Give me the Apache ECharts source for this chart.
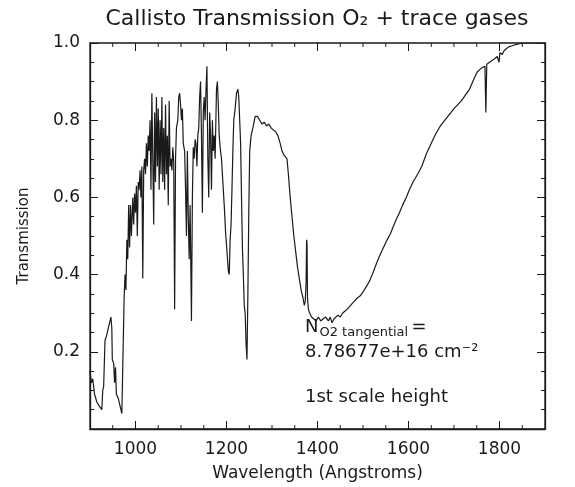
<!DOCTYPE html>
<html>
<head>
<meta charset="utf-8">
<script src="https://cdn.jsdelivr.net/npm/echarts@6/dist/echarts.min.js"></script>
<style>
  html, body { margin: 0; padding: 0; background: #fff; }
  #chart { width: 575px; height: 487px; }
</style>
</head>
<body>
<div id="chart"></div>
<script>
// ---- Data ----
var wavelength = [
  900, 903, 906, 910, 915, 920, 926, 928, 930, 933, 936, 940, 944, 946, 948, 949, 952, 954, 956, 958,
  962, 966, 970, 972, 975, 977, 979, 981, 983, 985, 987, 989, 991, 994, 996, 998, 1000, 1002, 1004, 1006,
  1008, 1010, 1012, 1014, 1016, 1018, 1020, 1022, 1024, 1026, 1028, 1030, 1032, 1034, 1036, 1038, 1040, 1042, 1044, 1046,
  1048, 1050, 1052, 1054, 1056, 1058, 1060, 1062, 1064, 1066, 1068, 1070, 1072, 1074, 1076, 1078, 1080, 1082, 1084, 1086,
  1088, 1090, 1093, 1095, 1097, 1099, 1101, 1103, 1105, 1108, 1110, 1112, 1114, 1116, 1118, 1120, 1123, 1125, 1127, 1129,
  1131, 1133, 1135, 1137, 1139, 1141, 1143, 1145, 1147, 1149, 1151, 1153, 1155, 1157, 1159, 1161, 1163, 1165, 1167, 1169,
  1171, 1173, 1175, 1178, 1180, 1182, 1184, 1186, 1189, 1192, 1195, 1198, 1201, 1204, 1206, 1208, 1210, 1212, 1214, 1216,
  1219, 1222, 1225, 1227, 1229, 1231, 1233, 1235, 1237, 1239, 1241, 1243, 1245, 1247, 1249, 1251, 1254, 1258, 1263, 1268,
  1273, 1278, 1283, 1288, 1293, 1298, 1303, 1308, 1313, 1318, 1322, 1326, 1330, 1333, 1336, 1340, 1344, 1348, 1352, 1356,
  1360, 1364, 1368, 1371, 1373, 1375, 1376, 1377, 1378, 1380, 1383, 1387, 1392, 1397, 1402, 1407, 1412, 1418, 1424, 1428,
  1432, 1436, 1440, 1445, 1450, 1455, 1460, 1465, 1476, 1488, 1494, 1500, 1508, 1515, 1522, 1530, 1537, 1545, 1553, 1560,
  1565, 1572, 1580, 1587, 1595, 1602, 1610, 1620, 1629, 1640, 1650, 1660, 1670, 1680, 1690, 1700, 1716, 1734, 1745, 1751,
  1760, 1768, 1770, 1772, 1778, 1784, 1790, 1795, 1799, 1801, 1806, 1810, 1815, 1820, 1828, 1836, 1844, 1852, 1870, 1900
];
var transmission = [
  0.15, 0.12, 0.13, 0.09, 0.07, 0.06, 0.05, 0.10, 0.11, 0.23, 0.24, 0.26, 0.28, 0.29, 0.26, 0.18, 0.17, 0.12, 0.16, 0.09,
  0.08, 0.06, 0.04, 0.16, 0.34, 0.40, 0.36, 0.49, 0.44, 0.58, 0.47, 0.58, 0.50, 0.60, 0.53, 0.61, 0.56, 0.63, 0.50, 0.64,
  0.62, 0.67, 0.60, 0.68, 0.39, 0.67, 0.70, 0.66, 0.74, 0.68, 0.76, 0.72, 0.80, 0.62, 0.87, 0.70, 0.53, 0.82, 0.64, 0.86,
  0.68, 0.83, 0.62, 0.80, 0.66, 0.86, 0.64, 0.78, 0.62, 0.84, 0.66, 0.76, 0.58, 0.85, 0.68, 0.70, 0.67, 0.73, 0.69, 0.31,
  0.70, 0.78, 0.80, 0.86, 0.87, 0.84, 0.80, 0.83, 0.74, 0.72, 0.62, 0.50, 0.72, 0.55, 0.44, 0.58, 0.28, 0.60, 0.73, 0.70,
  0.75, 0.74, 0.68, 0.76, 0.78, 0.86, 0.90, 0.76, 0.56, 0.82, 0.86, 0.80, 0.88, 0.94, 0.70, 0.60, 0.82, 0.76, 0.62, 0.80,
  0.72, 0.76, 0.70, 0.88, 0.90, 0.84, 0.76, 0.73, 0.70, 0.64, 0.58, 0.51, 0.46, 0.41, 0.40, 0.49, 0.53, 0.62, 0.72, 0.80,
  0.83, 0.87, 0.88, 0.86, 0.80, 0.74, 0.60, 0.47, 0.40, 0.32, 0.30, 0.22, 0.18, 0.35, 0.56, 0.72, 0.76, 0.78, 0.81, 0.81,
  0.80, 0.79, 0.795, 0.785, 0.79, 0.78, 0.775, 0.77, 0.76, 0.74, 0.72, 0.71, 0.715, 0.70, 0.66, 0.60, 0.55, 0.50, 0.46, 0.42,
  0.39, 0.36, 0.34, 0.32, 0.33, 0.38, 0.49, 0.48, 0.34, 0.31, 0.30, 0.29, 0.285, 0.28, 0.29, 0.28, 0.285, 0.29, 0.28, 0.29,
  0.275, 0.285, 0.29, 0.295, 0.29, 0.30, 0.305, 0.31, 0.325, 0.34, 0.345, 0.355, 0.37, 0.385, 0.405, 0.43, 0.45, 0.47, 0.49, 0.505,
  0.52, 0.54, 0.56, 0.58, 0.60, 0.62, 0.64, 0.66, 0.68, 0.715, 0.74, 0.765, 0.785, 0.80, 0.815, 0.83, 0.85, 0.88, 0.91, 0.925,
  0.935, 0.94, 0.82, 0.945, 0.95, 0.955, 0.96, 0.965, 0.95, 0.975, 0.97, 0.98, 0.985, 0.99, 0.993, 0.996, 0.998, 1.0, 1.0, 1.0
];
var xTickLabels = [1000, 1200, 1400, 1600, 1800];
var xMinorTicks = [950, 1050, 1100, 1150, 1250, 1300, 1350, 1450, 1500, 1550, 1650, 1700, 1750, 1850];
var yTickLabels = [0.2, 0.4, 0.6, 0.8, 1.0];

var seriesData = wavelength.map(function (w, i) { return [w, transmission[i]]; });
// tick marks for the top and bottom frame, placed through the x scale (1 = long, 0 = short)
var xTickData = xTickLabels.map(function (v) { return [v, 1]; })
  .concat(xMinorTicks.map(function (v) { return [v, 0]; }));

var FONT = 'DejaVu Sans';
var INK = '#1a1a1a';

function yAxisDef(pos) {
  return {
    type: 'value', position: pos, min: 0, max: 1, interval: 0.2,
    axisLine: { show: true, onZero: false, lineStyle: { color: INK, width: 1.3 } },
    splitLine: { show: false },
    axisTick: { show: true, inside: true, length: 8, lineStyle: { color: INK, width: 1 } },
    minorTick: { show: true, splitNumber: 4, length: 4, lineStyle: { color: INK, width: 1 } },
    axisLabel: {
      show: pos === 'left', margin: 10, color: INK, fontFamily: FONT, fontSize: 17,
      formatter: function (v) { return yTickLabels.indexOf(Math.round(v * 10) / 10) >= 0 ? v.toFixed(1) : ''; }
    },
    name: pos === 'left' ? 'Transmission' : '',
    nameLocation: 'middle', nameGap: 58, nameRotate: 90,
    nameTextStyle: { color: INK, fontFamily: FONT, fontSize: 15 }
  };
}

var chart = echarts.init(document.getElementById('chart'), null, { renderer: 'canvas' });

chart.setOption({
  animation: false,
  backgroundColor: '#ffffff',
  title: {
    text: 'Callisto Transmission O\u2082 + trace gases',
    left: 312, top: 3, textAlign: 'center',
    textStyle: { color: INK, fontFamily: FONT, fontSize: 22, fontWeight: 'normal' }
  },
  grid: {
    left: 90, right: 30, top: 43, bottom: 57, containLabel: false,
    show: true, borderColor: INK, borderWidth: 1.3, backgroundColor: 'transparent'
  },
  xAxis: [{
    type: 'value', position: 'bottom', min: 900, max: 1900,
    axisLine: { show: true, onZero: false, lineStyle: { color: INK, width: 1.3 } },
    splitLine: { show: false },
    axisTick: { show: false },
    axisLabel: {
      show: true, customValues: xTickLabels, margin: 12,
      color: INK, fontFamily: FONT, fontSize: 17,
      formatter: function (v) { return String(v); }
    },
    name: 'Wavelength (Angstroms)', nameLocation: 'middle', nameGap: 36,
    nameTextStyle: { color: INK, fontFamily: FONT, fontSize: 17 }
  }],
  yAxis: [yAxisDef('left'), yAxisDef('right')],
  series: [
    {
      type: 'line', xAxisIndex: 0, yAxisIndex: 0,
      data: seriesData, showSymbol: false, symbol: 'none',
      lineStyle: { color: INK, width: 1.2 }, clip: true
    },
    {
      type: 'custom', xAxisIndex: 0, yAxisIndex: 0,
      data: xTickData, silent: true, clip: false, z: 5,
      encode: { x: 0, y: 1 },
      renderItem: function (params, api) {
        var v = api.value(0);
        var len = api.value(1) === 1 ? 8 : 4;
        var b = api.coord([v, 0]);
        var t = api.coord([v, 1]);
        var st = { stroke: INK, lineWidth: 1 };
        return {
          type: 'group',
          children: [
            { type: 'line', shape: { x1: b[0], y1: b[1], x2: b[0], y2: b[1] - len }, style: st },
            { type: 'line', shape: { x1: t[0], y1: t[1], x2: t[0], y2: t[1] + len }, style: st }
          ]
        };
      }
    }
  ],
  graphic: [
    {
      type: 'text', left: 305, top: 318,
      style: {
        text: '{n|N}{s|O2 tangential} {n|=}',
        rich: {
          n: { fontFamily: FONT, fontSize: 18, fill: INK },
          s: { fontFamily: FONT, fontSize: 13, fill: INK, padding: [12, 0, 0, 1] }
        }
      }
    },
    {
      type: 'text', left: 305, top: 343,
      style: { text: '8.78677e+16 cm\u207B\u00B2', fontFamily: FONT, fontSize: 18, fill: INK }
    },
    {
      type: 'text', left: 305, top: 388,
      style: { text: '1st scale height', fontFamily: FONT, fontSize: 18, fill: INK }
    }
  ]
});
</script>
</body>
</html>
